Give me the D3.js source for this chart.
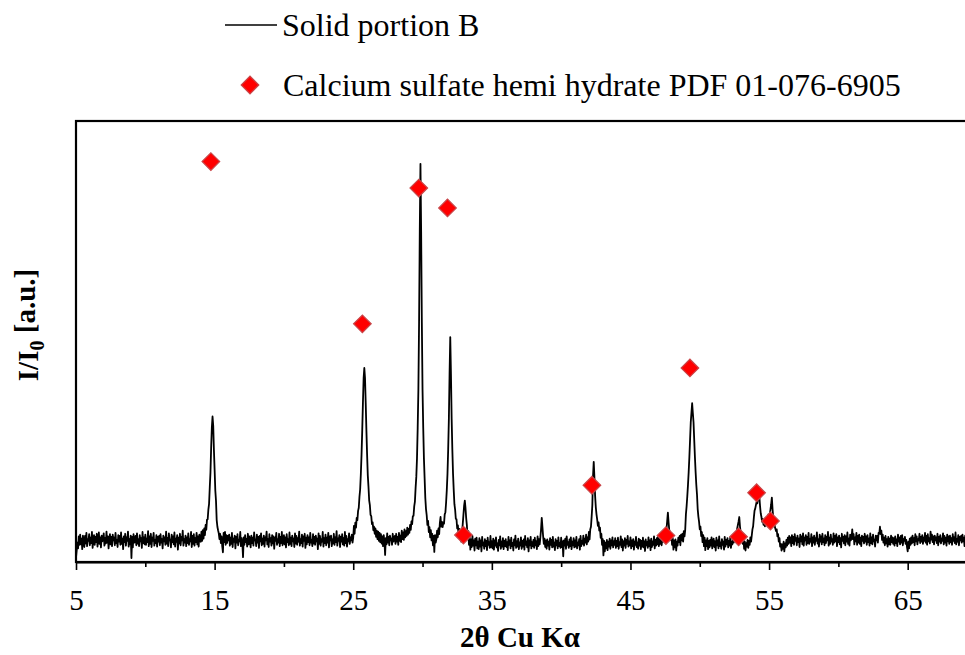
<!DOCTYPE html>
<html>
<head>
<meta charset="utf-8">
<script src="https://cdn.jsdelivr.net/npm/d3@7"></script>
<style>
body { margin: 0; background: #fff; }
svg text { font-family: "Liberation Serif", "Times New Roman", serif; fill: #000; }
</style>
</head>
<body>
<svg id="chart" width="965" height="655"></svg>
<script>
// sampled pattern, one row per degree (x.00, x.05 ... x.95)
const thetaStart = 5
const thetaStep = 0.05
const intensity = [
  1.0, 2.6, 4.4, 3.1, 5.8, 3.9, 6.2, 4.0, 5.3, 2.9, 6.0, 4.6, 3.4, 5.9, 4.2, 6.6, 3.6, 5.1, 4.8, 6.3,
  3.8, 5.5, 4.3, 6.8, 3.2, 5.2, 6.1, 3.9, 5.7, 4.5, 6.4, 3.5, 5.0, 6.7, 4.1, 5.6, 3.3, 6.0, 4.7, 5.3,
  6.5, 3.7, 5.4, 4.2, 6.9, 4.4, 5.8, 3.1, 5.1, 6.3, 4.0, 5.7, 3.6, 6.2, 4.9, 5.5, 3.8, 6.6, 4.3, 5.0,
  3.4, 6.1, 4.6, 5.9, 3.9, 6.7, 4.1, 5.3, 2.9, 5.8, 4.5, 6.4, 3.7, 5.6, 4.8, 6.9, 3.5, 5.2, 4.0, 6.0,
  0.9, 5.7, 3.3, 6.3, 4.4, 4.6, 5.9, 3.8, 6.5, 4.2, 5.1, 3.6, 6.1, 4.7, 5.4, 3.2, 6.8, 4.3, 5.6, 4.0,
  6.2, 3.9, 5.3, 4.5, 7.0, 3.6, 5.8, 4.1, 6.4, 3.4, 5.5, 4.8, 6.6, 3.7, 5.0, 4.3, 6.1, 3.5, 5.7, 4.6,
  5.9, 3.8, 6.3, 4.4, 5.2, 3.1, 6.0, 4.7, 5.6, 3.9, 6.9, 4.2, 5.4, 3.6, 6.5, 4.9, 5.1, 3.3, 6.2, 4.5,
  5.8, 4.0, 6.7, 3.5, 5.3, 4.6, 6.1, 2.8, 5.5, 4.2, 6.4, 3.8, 5.7, 4.9, 7.1, 3.7, 5.2, 4.4, 6.0, 3.6,
  5.6, 4.3, 6.5, 3.9, 5.1, 4.7, 6.8, 3.4, 5.9, 4.1, 6.3, 3.7, 5.4, 4.5, 6.6, 4.0, 5.8, 3.5, 6.2, 4.8,
  4.6, 6.9, 4.8, 7.2, 5.3, 7.6, 6.1, 8.4, 7.3, 9.6, 9.7, 11.9, 13.2, 16.9, 20.3, 25.9, 30.5, 33.0, 30.9, 25.4,
  20.9, 16.2, 13.9, 9.5, 8.0, 7.2, 6.5, 5.2, 6.4, 4.3, 5.8, 3.6, 2.2, 6.6, 4.5, 6.8, 3.9, 6.1, 4.3, 5.9,
  4.9, 6.2, 3.7, 5.5, 4.1, 6.6, 3.4, 5.3, 4.6, 6.0, 3.1, 5.7, 4.4, 6.3, 3.8, 5.0, 4.7, 6.8, 3.6, 5.4,
  4.2, 1.1, 5.6, 3.9, 6.1, 4.5, 5.2, 3.5, 6.4, 4.0, 5.8, 4.8, 3.3, 6.0, 4.3, 5.5, 3.7, 6.7, 4.9, 5.1,
  3.6, 6.2, 4.4, 5.7, 3.2, 5.9, 4.7, 6.5, 3.8, 5.3, 4.1, 6.0, 3.5, 5.6, 4.9, 6.9, 4.0, 5.2, 3.4, 6.3,
  4.6, 5.4, 3.7, 6.1, 4.2, 5.8, 3.0, 5.5, 4.8, 6.6, 3.9, 5.1, 4.4, 6.4, 3.6, 5.7, 4.3, 6.8, 3.8, 5.0,
  6.1, 4.0, 5.6, 3.3, 6.3, 4.5, 5.2, 3.8, 6.7, 4.1, 5.5, 3.6, 6.0, 4.7, 5.3, 3.4, 6.5, 4.2, 5.9, 3.9,
  5.4, 4.6, 6.9, 3.7, 5.1, 4.3, 6.2, 3.5, 5.8, 4.8, 6.4, 3.2, 5.5, 4.0, 6.1, 4.5, 5.6, 3.8, 6.6, 4.4,
  5.0, 3.6, 6.3, 4.2, 5.7, 3.9, 6.0, 4.7, 5.3, 2.9, 6.5, 4.1, 5.9, 3.7, 5.2, 4.6, 6.8, 3.5, 5.4, 4.3,
  6.2, 3.8, 5.5, 4.4, 6.6, 3.3, 5.8, 4.9, 6.0, 3.6, 5.1, 4.2, 6.4, 3.9, 5.6, 4.5, 7.0, 3.7, 5.3, 4.8,
  6.1, 3.4, 5.7, 4.6, 6.3, 4.0, 5.4, 3.7, 6.8, 4.3, 5.9, 3.5, 5.2, 4.7, 6.5, 4.1, 5.6, 4.9, 6.2, 4.4,
  5.6, 8.2, 6.4, 8.9, 7.8, 10.0, 9.5, 11.6, 12.3, 14.8, 16.5, 20.0, 24.4, 29.9, 36.1, 41.7, 44.0, 41.7, 36.1, 29.9,
  24.4, 19.7, 17.1, 14.0, 12.9, 10.7, 10.4, 8.6, 9.0, 7.2, 8.0, 6.4, 7.6, 5.7, 7.1, 5.2, 6.9, 4.8, 6.6, 4.5,
  6.3, 4.2, 5.8, 3.6, 6.1, 4.7, 1.6, 5.4, 4.0, 6.5, 4.4, 5.7, 3.8, 6.0, 4.9, 5.3, 3.9, 6.4, 4.6, 5.5,
  5.9, 4.1, 6.4, 4.6, 5.7, 3.9, 6.6, 4.8, 6.0, 4.5, 7.1, 5.2, 6.7, 5.0, 7.4, 5.6, 7.0, 5.9, 7.8, 6.2,
  7.5, 6.6, 8.4, 7.3, 9.2, 8.6, 10.4, 10.5, 12.6, 13.7, 16.8, 19.3, 23.5, 30.4, 39.0, 54.3, 74.9, 90.3, 74.9, 54.3,
  39.0, 30.4, 23.5, 19.0, 14.5, 12.0, 10.6, 8.4, 9.3, 6.8, 7.9, 5.6, 7.2, 4.9, 6.4, 3.8, 5.9, 2.3, 6.1, 4.4,
  5.2, 7.1, 5.6, 7.6, 6.3, 8.9, 10.2, 8.0, 9.1, 7.9, 9.0, 8.7, 10.8, 11.3, 13.5, 16.3, 20.0, 25.5, 32.5, 42.7,
  51.0, 42.7, 32.5, 25.5, 20.0, 16.3, 13.1, 11.9, 9.8, 9.7, 7.6, 8.3, 6.1, 7.5, 5.2, 6.9, 4.6, 6.8, 8.6, 10.7,
  12.8, 13.9, 12.2, 9.9, 8.3, 5.4, 7.0, 3.9, 5.6, 2.8, 5.1, 3.4, 5.9, 3.7, 4.9, 2.6, 5.3, 3.8, 5.5, 3.1,
  4.6, 2.9, 5.4, 3.5, 4.9, 2.4, 5.7, 3.8, 4.4, 3.0, 5.2, 3.6, 4.8, 2.7, 5.5, 3.9, 4.5, 3.2, 5.9, 3.4,
  4.7, 3.1, 5.3, 2.8, 4.9, 3.7, 5.6, 3.3, 4.2, 2.5, 5.0, 3.8, 5.8, 3.0, 4.6, 3.5, 5.4, 2.9, 4.8, 3.6,
  5.2, 3.4, 4.5, 2.7, 5.7, 3.9, 4.9, 3.1, 5.5, 3.6, 4.3, 2.6, 5.1, 3.8, 6.0, 3.2, 4.7, 3.5, 5.3, 2.9,
  4.4, 3.7, 5.6, 3.0, 4.8, 3.5, 5.1, 2.8, 5.9, 3.9, 4.6, 3.3, 5.4, 2.4, 4.9, 3.8, 5.7, 3.1, 4.5, 3.6,
  5.0, 3.2, 5.5, 3.8, 4.7, 2.9, 5.8, 3.6, 5.2, 4.0, 5.6, 7.4, 10.0, 7.9, 5.8, 4.1, 5.3, 3.4, 4.9, 3.0,
  5.1, 3.7, 4.6, 2.8, 5.4, 3.9, 5.0, 3.3, 5.7, 3.5, 4.4, 2.7, 5.2, 3.8, 4.8, 3.1, 5.6, 3.6, 4.3, 3.2,
  5.5, 3.4, 4.7, 1.3, 4.9, 3.7, 5.3, 3.0, 5.8, 3.9, 4.5, 3.2, 5.1, 3.6, 5.6, 2.9, 4.6, 3.8, 5.4, 3.3,
  4.9, 3.5, 5.7, 3.1, 4.4, 3.8, 5.2, 2.8, 5.9, 3.6, 4.8, 4.1, 6.0, 3.7, 5.3, 4.4, 6.2, 4.0, 5.6, 4.6,
  6.8, 5.1, 7.4, 8.0, 10.3, 12.9, 19.5, 22.7, 19.2, 15.0, 12.4, 10.8, 9.6, 8.2, 9.0, 7.1, 7.8, 5.5, 6.4, 3.9,
  5.2, 1.5, 4.8, 2.4, 4.4, 3.1, 5.0, 2.7, 4.6, 3.5, 5.3, 3.0, 4.9, 3.8, 5.6, 3.3, 4.7, 3.9, 5.4, 3.2,
  4.8, 3.6, 5.5, 3.0, 4.5, 3.9, 5.8, 3.4, 5.1, 2.6, 4.7, 3.7, 5.4, 3.2, 5.0, 4.1, 5.9, 3.5, 4.6, 3.8,
  5.6, 3.1, 4.9, 3.6, 5.2, 2.8, 4.6, 3.9, 5.7, 3.4, 4.4, 3.0, 5.3, 3.7, 5.0, 2.9, 4.8, 3.5, 5.5, 3.3,
  4.7, 2.5, 5.1, 3.8, 4.5, 3.2, 5.6, 3.6, 4.9, 2.7, 5.3, 3.4, 4.6, 3.9, 5.8, 3.1, 5.0, 3.7, 5.4, 4.0,
  5.9, 3.6, 5.2, 4.1, 6.0, 3.8, 5.5, 4.6, 6.3, 5.0, 6.6, 6.0, 7.5, 9.3, 11.2, 9.0, 7.2, 6.4, 5.0, 6.1,
  3.9, 5.4, 2.8, 4.9, 3.3, 5.1, 2.6, 4.6, 3.7, 5.5, 4.5, 5.9, 3.8, 6.2, 4.9, 6.4, 4.6, 7.0, 5.8, 7.3,
  10.8, 12.6, 14.9, 17.5, 20.4, 23.8, 27.7, 31.7, 33.8, 36.0, 33.8, 31.7, 27.7, 23.8, 20.4, 17.5, 15.3, 12.0, 10.3, 9.1,
  7.4, 8.0, 5.9, 6.8, 4.5, 6.1, 3.6, 5.5, 2.7, 4.9, 3.6, 5.4, 2.9, 4.8, 3.3, 5.0, 3.7, 5.6, 3.1, 4.6,
  5.3, 3.4, 4.7, 2.6, 5.5, 3.8, 4.9, 3.1, 5.8, 3.6, 4.4, 3.0, 5.2, 3.9, 4.6, 2.8, 5.7, 3.5, 5.0, 4.0,
  5.4, 3.3, 4.8, 3.7, 5.6, 3.2, 4.5, 4.0, 5.9, 4.4, 6.2, 5.1, 6.8, 6.0, 7.6, 8.4, 9.2, 10.2, 8.1, 6.7,
  5.3, 6.0, 4.1, 5.2, 3.0, 4.6, 2.6, 4.3, 3.5, 5.0, 3.2, 4.8, 3.9, 5.6, 4.6, 6.0, 7.4, 8.1, 10.0, 11.6,
  12.1, 12.9, 13.6, 13.3, 14.2, 14.4, 14.7, 12.6, 11.0, 10.2, 9.1, 9.7, 8.4, 9.0, 8.1, 8.8, 8.5, 9.3, 9.9, 10.8,
  10.2, 10.8, 11.9, 13.1, 14.6, 12.0, 10.1, 9.0, 8.2, 7.6, 7.0, 7.4, 5.8, 6.3, 4.6, 5.4, 3.5, 4.1, 2.6, 4.0,
  3.0, 4.6, 2.4, 4.2, 3.3, 5.0, 3.7, 5.5, 4.1, 5.9, 4.4, 5.6, 3.6, 6.1, 4.3, 5.7, 3.9, 6.3, 4.8, 5.4,
  3.8, 6.0, 4.5, 5.3, 3.4, 6.2, 4.7, 5.8, 4.0, 6.5, 3.7, 5.5, 4.9, 6.1, 3.9, 5.7, 4.3, 6.6, 4.1, 5.2,
  4.6, 6.3, 3.6, 5.6, 4.4, 6.0, 3.9, 5.4, 4.8, 6.7, 4.2, 5.1, 3.5, 6.2, 4.6, 5.8, 4.0, 6.4, 4.5, 5.3,
  3.8, 6.1, 4.3, 5.7, 4.9, 6.8, 3.7, 5.5, 4.1, 6.2, 4.6, 5.2, 3.9, 6.5, 4.4, 5.9, 4.7, 6.3, 3.6, 5.6,
  4.5, 6.0, 4.0, 5.4, 3.3, 6.4, 4.8, 5.7, 4.2, 6.1, 3.8, 5.8, 4.6, 6.7, 4.1, 5.3, 3.7, 6.2, 4.9, 5.5,
  7.4, 5.2, 6.3, 4.0, 5.6, 4.7, 6.6, 3.9, 5.9, 4.4, 6.2, 4.1, 5.5, 3.6, 6.0, 4.8, 5.7, 4.2, 6.4, 4.6,
  5.8, 3.9, 6.1, 4.5, 5.3, 3.7, 6.5, 4.3, 5.6, 4.0, 6.2, 4.7, 5.1, 3.5, 6.0, 4.9, 5.9, 4.4, 6.6, 6.4,
  8.0, 6.3, 7.1, 5.0, 6.2, 4.4, 5.5, 3.8, 5.9, 4.2, 5.2, 3.5, 5.7, 4.0, 5.3, 3.9, 6.0, 4.5, 5.6, 4.1,
  5.4, 3.7, 5.8, 4.3, 5.1, 3.6, 6.2, 4.6, 5.5, 4.0, 5.9, 4.4, 6.1, 3.8, 5.2, 4.8, 5.7, 4.1, 5.0, 3.4,
  2.4, 4.6, 3.1, 5.3, 3.9, 5.6, 4.2, 6.0, 4.5, 5.4, 3.8, 6.3, 4.7, 5.8, 4.0, 5.2, 4.9, 6.4, 4.3, 5.7,
  4.6, 6.1, 4.1, 5.5, 4.8, 6.6, 4.4, 5.9, 3.9, 6.3, 4.7, 5.4, 4.2, 6.9, 5.1, 6.2, 4.5, 5.8, 4.0, 6.0,
  4.9, 5.6, 4.3, 6.4, 3.8, 5.7, 4.6, 6.1, 4.2, 5.3, 4.8, 6.5, 4.0, 5.9, 4.4, 5.5, 3.7, 6.2, 4.7, 5.8,
  4.1, 6.0, 4.5, 5.4, 3.9, 6.3, 4.8, 5.6, 4.3, 6.7, 4.0, 5.2, 4.6, 6.1, 3.8, 5.7, 4.9, 5.9, 4.4, 6.2,
  4.7, 5.5, 3.6, 6.0, 4.2, 5.8, 4.5, 6.4, 4.0, 5.3, 4.8, 5.9, 4.1, 6.3, 4.6, 5.4, 3.9, 6.1, 4.4, 5.7,
  5.0
]

// reference card peaks (PDF 01-076-6905)
const refTheta = [14.73, 25.66, 29.73, 31.8, 32.95, 42.22, 47.56, 49.29, 52.8, 54.1, 55.1]
const refIntensity = [90.8, 54.0, 84.8, 80.3, 6.1, 17.4, 6.0, 44.0, 5.7, 15.7, 9.3]

const majorTicks = [5, 15, 25, 35, 45, 55, 65]
const minorTicks = [10, 20, 30, 40, 50, 60, 70]
const legendLabels = ["Solid portion B", "Calcium sulfate hemi hydrate PDF 01-076-6905"]

const svg = d3.select("#chart")
const margin = {top: 121, bottom: 562, left: 76, right: 977}

const x = d3.scaleLinear()
    .domain([5, 70])
    .range([margin.left, margin.right])

const y = d3.scaleLinear()
    .domain([0, 100])
    .range([margin.bottom, margin.top])

const trace = intensity.map((v, i) => [thetaStart + i * thetaStep, v])

const line = d3.line()
    .x(d => x(d[0]))
    .y(d => y(d[1]))

svg.append("path")
    .datum(trace)
    .attr("fill", "none")
    .attr("stroke", "#000")
    .attr("stroke-width", 1.8)
    .attr("stroke-linejoin", "round")
    .attr("d", line)

const diamond = d3.symbol().type(d3.symbolSquare).size(155)

svg.selectAll(".ref")
    .data(refTheta)
    .enter()
    .append("path")
    .attr("class", "ref")
    .attr("d", diamond)
    .attr("transform", (d, i) => "translate(" + x(d) + "," + y(refIntensity[i]) + ")rotate(45)")
    .attr("fill", "#ff0000")
    .attr("stroke", "#c8474a")
    .attr("stroke-width", 1.2)

// frame
svg.append("rect")
    .attr("x", margin.left)
    .attr("y", margin.top)
    .attr("width", margin.right - margin.left)
    .attr("height", margin.bottom - margin.top)
    .attr("fill", "none")
    .attr("stroke", "#000")
    .attr("stroke-width", 2.2)

// x axis
const xAxis = svg.append("g")
    .attr("transform", "translate(0," + margin.bottom + ")")
    .call(d3.axisBottom(x).tickValues(majorTicks).tickSize(8).tickSizeOuter(0).tickFormat(d3.format("d")))

xAxis.select(".domain").attr("stroke-width", 2.2)
xAxis.selectAll(".tick line").attr("stroke-width", 1.6)
xAxis.selectAll("text")
    .attr("y", 48)
    .attr("dy", 0)
    .style("font-family", "'Liberation Serif', serif")
    .style("font-size", "29px")

svg.append("g")
    .attr("transform", "translate(0," + margin.bottom + ")")
    .call(d3.axisBottom(x).tickValues(minorTicks).tickSize(5).tickSizeOuter(0).tickFormat(""))
    .call(g => g.select(".domain").remove())
    .selectAll(".tick line").attr("stroke-width", 1.6)

// axis titles
svg.append("text")
    .attr("x", 520)
    .attr("y", 647)
    .attr("text-anchor", "middle")
    .style("font-size", "29px")
    .style("font-weight", "bold")
    .text("2θ Cu Kα")

const yTitle = svg.append("text")
    .attr("transform", "translate(38,325)rotate(-90)")
    .attr("text-anchor", "middle")
    .style("font-size", "29px")
    .style("font-weight", "bold")
yTitle.append("tspan").text("I/I")
yTitle.append("tspan").attr("dy", "0.3em").style("font-size", "20px").text("0")
yTitle.append("tspan").attr("dy", "-0.3em").text(" [a.u.]")

// legend
svg.append("line")
    .attr("x1", 225).attr("x2", 277)
    .attr("y1", 25).attr("y2", 25)
    .attr("stroke", "#000")
    .attr("stroke-width", 1.5)

svg.append("text")
    .attr("x", 282)
    .attr("y", 36)
    .style("font-size", "32px")
    .text(legendLabels[0])

svg.append("path")
    .attr("d", diamond)
    .attr("transform", "translate(250,85)rotate(45)")
    .attr("fill", "#ff0000")
    .attr("stroke", "#c8474a")
    .attr("stroke-width", 1.2)

svg.append("text")
    .attr("x", 283)
    .attr("y", 96)
    .style("font-size", "32px")
    .text(legendLabels[1])
</script>
</body>
</html>
